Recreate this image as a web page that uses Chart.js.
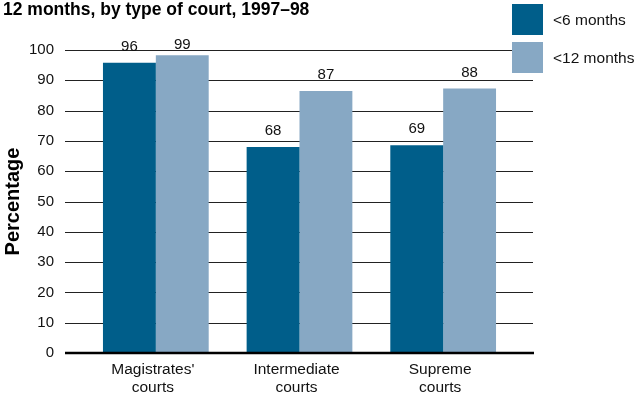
<!DOCTYPE html>
<html>
<head>
<meta charset="utf-8">
<script src="https://cdn.jsdelivr.net/npm/chart.js@4"></script>
<style>
  body { margin: 0; background: #fff; }
  .wrap { position: relative; width: 642px; height: 398px; }
  .legend { position: absolute; left: 512px; top: 4px; font: 15.5px "Liberation Sans", Arial, sans-serif; color: #111; }
  .legend .item { display: flex; align-items: center; height: 31px; margin-bottom: 7px; }
  .legend .box { width: 31px; height: 31px; margin-right: 10px; }
</style>
</head>
<body>
<div class="wrap">
  <canvas id="chart"></canvas>
  <div class="legend" id="legend"></div>
</div>
<script>
const courts = [["Magistrates'", 'courts'], ['Intermediate', 'courts'], ['Supreme', 'courts']];

// bar heights as drawn, and the numbers printed over them
const under6Months = [95.8, 68.0, 68.6];
const under12Months = [98.3, 86.5, 87.3];
const under6Labels = ['96', '68', '69'];
const under12Labels = ['99', '87', '88'];

const yTicks = [0, 10, 20, 30, 40, 50, 60, 70, 80, 90, 100];

const DARK = 'rgb(0, 94, 138)';
const LIGHT = 'rgb(135, 168, 196)';
const FONT = '"Liberation Sans", Arial, sans-serif';

// grid lines run a little past the bars on both sides
const gridLines = {
  id: 'gridLines',
  beforeDatasetsDraw(chart) {
    const {ctx, chartArea, scales} = chart;
    ctx.save();
    ctx.strokeStyle = '#222';
    ctx.lineWidth = 1;
    yTicks.forEach(v => {
      if (v === 0) return;
      const y = Math.round(scales.y.getPixelForValue(v)) + 0.5;
      ctx.beginPath();
      ctx.moveTo(chartArea.left - 19, y);
      ctx.lineTo(chartArea.right + 18, y);
      ctx.stroke();
    });
    ctx.restore();
  },
  afterDatasetsDraw(chart) {
    const {ctx, chartArea, scales} = chart;
    const y = scales.y.getPixelForValue(0);
    ctx.save();
    ctx.strokeStyle = '#000';
    ctx.lineWidth = 2.5;
    ctx.beginPath();
    ctx.moveTo(chartArea.left - 19, y);
    ctx.lineTo(chartArea.right + 19, y);
    ctx.stroke();
    ctx.restore();
  }
};

const valueLabels = {
  id: 'valueLabels',
  afterDatasetsDraw(chart) {
    const {ctx} = chart;
    const top = chart.scales.y.getPixelForValue(100);
    ctx.save();
    ctx.font = '15px ' + FONT;
    ctx.fillStyle = '#111';
    ctx.textAlign = 'center';
    ctx.textBaseline = 'middle';
    chart.data.datasets.forEach((ds, i) => {
      chart.getDatasetMeta(i).data.forEach((bar, j) => {
        const y = Math.max(bar.y - 16, top - 5);
        ctx.fillText(ds.valueLabels[j], bar.x, y);
      });
    });
    ctx.restore();
  }
};

const chart = new Chart(document.getElementById('chart'), {
  type: 'bar',
  data: {
    labels: courts,
    datasets: [
      { label: '<6 months', data: under6Months, valueLabels: under6Labels, backgroundColor: DARK },
      { label: '<12 months', data: under12Months, valueLabels: under12Labels, backgroundColor: LIGHT }
    ]
  },
  options: {
    responsive: true,
    maintainAspectRatio: false,
    animation: false,
    layout: { padding: { left: 3, right: 127, top: 0, bottom: 0 } },
    datasets: { bar: { categoryPercentage: 0.736, barPercentage: 1 } },
    plugins: {
      legend: { display: false },
      tooltip: { enabled: false },
      title: {
        display: true,
        text: '12 months, by type of court, 1997\u201398',
        align: 'start',
        color: '#000',
        font: { family: FONT, size: 17.5, weight: 'bold', lineHeight: 1.2 },
        padding: { top: 0, bottom: 29 }
      }
    },
    scales: {
      x: {
        grid: { display: false, drawTicks: false },
        border: { display: false },
        ticks: { color: '#111', font: { family: FONT, size: 15.5, lineHeight: 1.2 }, padding: 7, maxRotation: 0, labelOffset: -3 },
        afterFit(scale) { scale.height = 45; }
      },
      y: {
        min: 0,
        max: 100,
        afterBuildTicks(scale) { scale.ticks = yTicks.map(v => ({ value: v })); },
        grid: { display: false, drawTicks: false },
        border: { display: false },
        ticks: { color: '#111', font: { family: FONT, size: 15 }, padding: 30 },
        title: {
          display: true,
          text: 'Percentage',
          color: '#000',
          font: { family: FONT, size: 20, weight: 'bold', lineHeight: 1 },
          padding: { top: 0, bottom: 0 }
        },
        afterFit(scale) { scale.width = 81; }
      }
    }
  },
  plugins: [gridLines, valueLabels]
});

const legendEl = document.getElementById('legend');
chart.data.datasets.forEach(ds => {
  const item = document.createElement('div');
  item.className = 'item';
  const box = document.createElement('span');
  box.className = 'box';
  box.style.background = ds.backgroundColor;
  const text = document.createElement('span');
  text.textContent = ds.label;
  item.appendChild(box);
  item.appendChild(text);
  legendEl.appendChild(item);
});
</script>
</body>
</html>
